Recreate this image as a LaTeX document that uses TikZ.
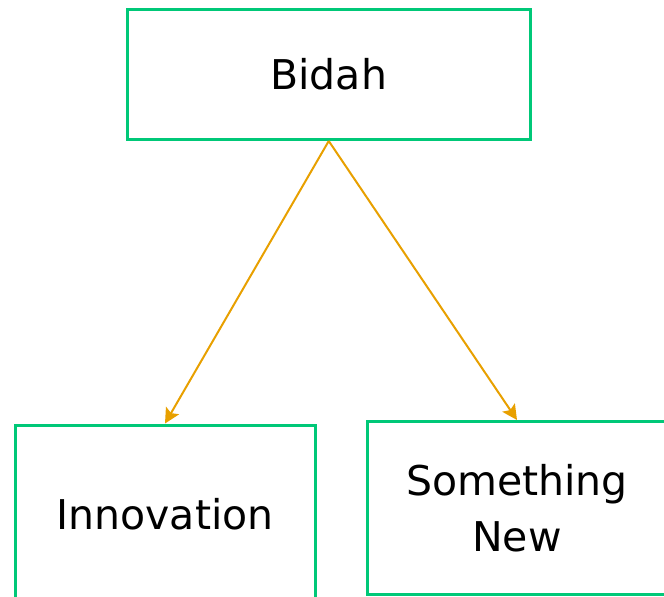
\documentclass[tikz,border=0pt]{standalone}
\usepackage{fontspec}
\setmainfont{DejaVu Sans}
\usetikzlibrary{shapes,arrows.meta}
\definecolor{boxgreen}{RGB}{0,200,120}
\definecolor{linkorange}{RGB}{232,160,0}
\tikzstyle{block} = [rectangle, draw=boxgreen, line width=3pt, fill=white,
    align=center, minimum width=300pt, font=\fontsize{41}{56}\selectfont]
\tikzstyle{line} = [draw=linkorange, line width=2pt, -{Stealth[length=15pt,width=15pt,inset=3pt]}]

\begin{document}
\begin{tikzpicture}[x=1pt, y=-1pt, node distance = 436pt]
        \useasboundingbox (0,0) rectangle (664,597);
        \begin{scope}
        \clip (0,0) rectangle (664,597);
        % Place nodes
        % 1. Root term
        \node [block, minimum width=402.5pt, minimum height=130pt] (bida) at (328.75,74.5) {Bidah};
        
        \node [below of=bida] (vir0) {}; % virtual node for the two meanings
        % 2. Its two meanings
        \node [block, left of=vir0, node distance=163.75pt, yshift=-3.5pt, minimum height=178pt] (inno) {Innovation};
        \node [block, right of=vir0, node distance=188.25pt, yshift=2.75pt, minimum height=172.5pt] (snew) {Something\\New};
        
        % Draw edges
        \path [line] (bida.south) -- (inno.north);
        \path [line] (bida.south) -- (snew.north);
        \end{scope}
      \end{tikzpicture}
\end{document}
